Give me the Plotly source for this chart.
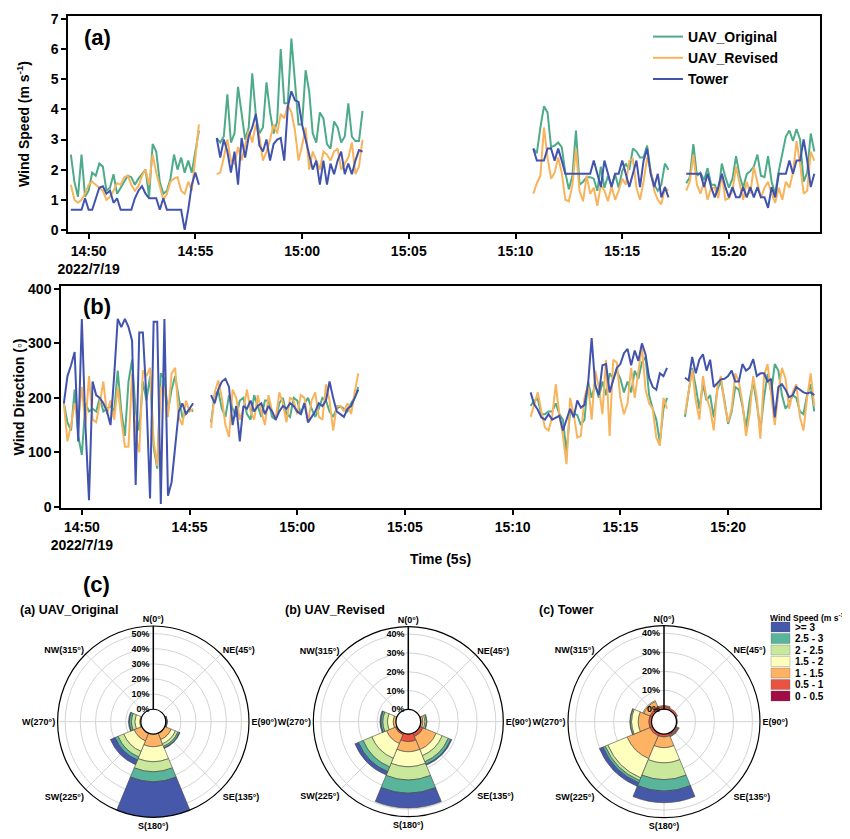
import plotly.graph_objects as go
import pandas as pd

# the page body has an 8 px margin; the figure is laid out in reference pixel
# coordinates and shifted by that margin
OFF = 8
W, H = 850 - OFF, 839 - OFF
FONT = "Liberation Sans, Arial, sans-serif"


def px(x):
    return (x - OFF) / W


def py(y):
    return 1 - (y - OFF) / H


# ---------------- time series data (10 s samples, 4 flight segments) -------------
SEG_STARTS = ["2022-07-19 14:49:10", "2022-07-19 14:56:00",
              "2022-07-19 15:10:50", "2022-07-19 15:18:00"]

ws_uav_original = [
    [2.5, 1.6, 1.1, 2.5, 1.1, 1.3, 1.9, 1.8, 2.2, 2.1, 1.3, 1.4, 1.85, 1.2, 1.4, 1.6, 1.8, 1.75, 1.5,
     1.7, 1.85, 2.0, 1.1, 2.85, 2.6, 1.6, 1.2, 1.3, 1.7, 2.5, 2.0, 2.4, 1.9, 2.3, 1.9, 2.6, 3.3],
    [3.05, 2.9, 3.1, 4.5, 2.9, 3.2, 4.75, 3.8, 3.0, 3.4, 5.2, 3.8, 3.2, 3.4, 4.9, 3.9, 3.2, 3.6, 6.0,
     4.2, 4.2, 6.35, 5.0, 3.5, 3.5, 5.3, 4.6, 3.2, 2.9, 3.9, 3.7, 2.85, 2.7, 3.6, 3.4, 2.9, 3.1, 4.2,
     3.1, 2.95, 2.95, 3.95],
    [2.7, 2.55, 3.4, 4.1, 3.9, 2.75, 2.8, 2.9, 2.75, 1.9, 1.35, 1.8, 3.3, 1.5, 1.6, 1.75, 1.75, 1.7,
     1.3, 2.1, 1.4, 1.8, 1.45, 1.85, 1.4, 1.95, 2.2, 2.0, 2.7, 2.6, 2.4, 2.4, 2.8, 1.9, 1.5, 1.3, 1.5,
     2.2, 2.0],
    [1.55, 1.75, 2.85, 1.8, 1.9, 1.65, 2.05, 1.5, 1.5, 1.2, 2.2, 1.75, 1.4, 1.7, 2.45, 1.8, 1.4, 1.85,
     1.95, 2.1, 2.5, 1.8, 1.75, 2.45, 1.6, 1.2, 1.95, 2.5, 3.1, 3.3, 2.95, 3.35, 3.0, 1.6, 1.9, 3.2, 2.6],
]
ws_uav_revised = [
    [1.5, 1.0, 0.9, 1.0, 1.2, 1.5, 1.6, 1.5, 1.4, 1.3, 1.0, 1.1, 1.3, 1.55, 1.5, 1.75, 1.8, 1.5, 1.3,
     1.45, 1.8, 2.0, 1.5, 2.5, 1.9, 1.4, 1.0, 1.2, 1.6, 1.7, 1.75, 1.3, 1.2, 1.6, 1.3, 2.4, 3.5],
    [1.85, 1.9, 2.4, 3.0, 2.3, 2.2, 2.75, 2.3, 2.8, 3.3, 2.9, 3.5, 3.1, 2.3, 2.6, 3.0, 3.5, 3.2, 3.85,
     3.7, 4.15, 3.9, 3.3, 2.3, 2.8, 3.4, 2.0, 2.6, 2.3, 2.0, 2.6, 2.5, 2.3, 2.6, 2.7, 2.0, 2.2, 2.4,
     2.9, 1.85, 2.1, 3.0],
    [1.2, 1.55, 1.8, 3.4, 2.4, 1.7, 1.9, 2.4, 1.9, 1.0, 0.95, 1.5, 2.7, 1.3, 0.95, 1.8, 1.2, 1.4, 0.8,
     1.5, 1.3, 0.95, 1.45, 1.0, 1.3, 1.7, 1.5, 2.3, 2.35, 1.4, 1.0, 1.6, 2.4, 2.0, 1.3, 1.0, 0.85, 1.4,
     1.3],
    [1.3, 1.6, 2.5, 1.5, 1.2, 1.6, 1.0, 1.4, 1.4, 1.05, 1.85, 1.0, 1.05, 1.3, 2.1, 1.5, 1.0, 1.6, 1.2,
     2.1, 1.6, 1.05, 1.4, 1.6, 1.2, 0.9, 1.4, 1.0, 1.6, 1.4, 1.9, 2.95, 2.2, 1.2, 1.3, 2.6, 2.3],
]
ws_tower = [
    [0.67, 0.67, 0.67, 0.67, 1.05, 0.67, 0.67, 1.05, 1.4, 1.45, 1.2, 1.3, 0.9, 1.05, 0.67, 0.67, 0.67,
     0.67, 1.05, 1.3, 1.45, 1.2, 1.05, 1.05, 1.05, 0.67, 1.05, 0.67, 0.67, 0.67, 0.67, 0.67, 0.0, 0.67,
     1.5, 1.9, 1.5],
    [3.05, 2.4, 3.0, 2.6, 1.9, 2.6, 1.5, 3.05, 2.4, 3.1, 3.4, 3.85, 2.8, 2.6, 3.0, 2.3, 2.85, 3.0,
     3.05, 2.3, 4.1, 4.6, 4.3, 4.25, 3.5, 3.0, 2.5, 2.0, 2.3, 1.5, 2.3, 1.5, 2.2, 1.85, 2.3, 2.6, 1.85,
     2.2, 1.85, 2.3, 2.65, 2.6],
    [2.7, 2.3, 2.3, 2.3, 2.7, 2.7, 2.3, 2.7, 2.3, 1.86, 1.86, 1.86, 1.86, 1.86, 1.86, 1.86, 1.86, 2.3,
     1.86, 1.42, 2.3, 1.86, 1.42, 1.86, 1.86, 2.3, 1.86, 1.42, 1.86, 2.3, 1.42, 2.3, 2.7, 1.86, 1.42,
     1.86, 1.08, 1.42, 1.08],
    [1.86, 1.86, 1.86, 1.86, 1.86, 1.42, 1.86, 1.42, 1.08, 1.42, 1.86, 1.42, 1.08, 1.42, 1.08, 1.08,
     1.42, 1.08, 1.42, 1.08, 1.42, 1.08, 1.08, 0.73, 1.42, 1.08, 1.86, 1.86, 1.86, 2.3, 1.86, 2.3, 2.3,
     3.0, 2.3, 1.42, 1.86],
]

wd_uav_original = [
    [190, 155, 140, 215, 130, 95, 190, 175, 180, 175, 200, 175, 180, 185, 175, 250, 175, 130, 230, 270,
     175, 140, 230, 195, 240, 110, 70, 245, 235, 175, 215, 240, 200, 165, 170, 180, 175],
    [155, 205, 213, 180, 165, 205, 180, 165, 195, 200, 170, 160, 205, 185, 165, 195, 195, 165, 160,
     190, 200, 170, 165, 200, 195, 170, 190, 200, 180, 165, 180, 200, 195, 175, 165, 180, 185, 180,
     175, 190, 200, 220],
    [185, 195, 198, 170, 170, 175, 175, 190, 170, 160, 100, 175, 172, 168, 150, 160, 230, 200, 225,
     200, 230, 205, 245, 235, 250, 235, 210, 230, 210, 250, 235, 265, 275, 205, 180, 160, 118, 180, 200],
    [165, 213, 255, 220, 180, 225, 195, 205, 164, 215, 231, 195, 152, 175, 220, 215, 185, 145, 195,
     230, 190, 140, 200, 244, 210, 262, 250, 205, 180, 190, 205, 200, 175, 170, 205, 225, 175],
]
wd_uav_revised = [
    [190, 120, 150, 190, 160, 220, 150, 240, 160, 155, 190, 230, 170, 195, 160, 220, 160, 110, 110,
     245, 130, 100, 250, 240, 255, 120, 75, 220, 215, 165, 245, 255, 165, 150, 195, 175, 180],
    [145, 210, 232, 200, 150, 128, 215, 200, 160, 180, 215, 175, 160, 205, 175, 150, 205, 175, 160,
     210, 190, 155, 200, 195, 170, 205, 200, 155, 195, 210, 165, 160, 225, 195, 140, 185, 185, 175,
     190, 170, 210, 245],
    [165, 190, 210, 175, 145, 140, 165, 225, 170, 130, 78, 200, 170, 127, 130, 200, 225, 160, 250, 220,
     170, 270, 130, 270, 265, 200, 170, 190, 255, 200, 250, 295, 215, 190, 180, 127, 112, 200, 180],
    [170, 215, 252, 195, 160, 240, 200, 180, 140, 220, 240, 190, 155, 180, 245, 230, 190, 130, 170,
     240, 200, 125, 240, 262, 200, 150, 210, 255, 235, 180, 210, 225, 165, 140, 200, 245, 185],
]
wd_tower = [
    [190, 240, 260, 284, 120, 345, 150, 12, 230, 205, 200, 190, 175, 150, 240, 345, 330, 345, 330,
     305, 40, 320, 320, 200, 15, 340, 340, 5, 345, 20, 45, 110, 175, 190, 170, 180, 190],
    [205, 190, 215, 230, 235, 220, 150, 185, 120, 185, 180, 195, 175, 185, 190, 170, 185, 175, 160,
     175, 185, 180, 190, 185, 175, 170, 190, 155, 165, 175, 190, 185, 195, 230, 200, 175, 170, 165,
     180, 185, 200, 215],
    [210, 188, 178, 164, 160, 170, 160, 164, 167, 140, 160, 180, 164, 195, 182, 187, 225, 310, 222,
     205, 260, 262, 210, 235, 255, 262, 282, 290, 260, 287, 268, 300, 280, 237, 220, 215, 245, 240, 255],
    [237, 232, 275, 245, 270, 280, 250, 270, 220, 228, 234, 235, 240, 250, 230, 230, 262, 250, 255,
     271, 240, 245, 245, 230, 235, 164, 220, 225, 215, 201, 205, 220, 215, 210, 208, 210, 205],
]

SERIES_NAMES = ["UAV_Original", "UAV_Revised", "Tower"]
SERIES_COLORS = ["#4eab89", "#f8b45c", "#4153ad"]

X_TICKS = ["2022-07-19 14:50", "2022-07-19 14:55", "2022-07-19 15:00", "2022-07-19 15:05",
           "2022-07-19 15:10", "2022-07-19 15:15", "2022-07-19 15:20"]
X_TICKTEXT = ["14:50<br>2022/7/19", "14:55", "15:00", "15:05", "15:10", "15:15", "15:20"]
X_RANGE = ["2022-07-19 14:49:02", "2022-07-19 15:24:16"]

# ---------------- wind rose data (% frequency per direction sector) ---------------
DIR_THETA = [0, 45, 90, 135, 180, 225, 270, 315]
DIR_LABELS = ["N(0°)", "NE(45°)", "E(90°)", "SE(135°)", "S(180°)", "SW(225°)", "W(270°)", "NW(315°)"]
SPEED_BINS = ["0 - 0.5", "0.5 - 1", "1 - 1.5", "1.5 - 2", "2 - 2.5", "2.5 - 3", ">= 3"]
BIN_COLORS = ["#a30b45", "#e9533f", "#fdb264", "#fefebd", "#c9e89c", "#58b49a", "#4558aa"]

rose_uav_original = {
    "0 - 0.5": [0, 0, 0, 0, 0, 0, 0, 0],
    "0.5 - 1": [0, 0, 0, 0, 0, 0, 0, 0],
    "1 - 1.5": [0, 0, 0.3, 4.6, 8.3, 5.5, 0.8, 0],
    "1.5 - 2": [0, 0, 0.3, 3.0, 9.9, 7.5, 3.2, 0],
    "2 - 2.5": [0, 0, 0.3, 1.8, 6.6, 4.0, 2.2, 0],
    "2.5 - 3": [0, 0, 0.2, 1.1, 6.6, 2.2, 1.4, 0],
    ">= 3": [0, 0, 0, 0.4, 24.0, 3.3, 0.5, 0],
}
rose_uav_revised = {
    "0 - 0.5": [0, 0, 0, 0, 0, 0, 0, 0],
    "0.5 - 1": [0, 0, 0.3, 2.0, 4.0, 1.0, 0, 0],
    "1 - 1.5": [0, 0, 1.0, 7.5, 5.4, 5.0, 1.5, 0],
    "1.5 - 2": [0, 0, 1.0, 3.5, 8.0, 8.5, 3.0, 0],
    "2 - 2.5": [0, 0, 0.8, 3.5, 7.0, 5.0, 2.5, 0],
    "2.5 - 3": [0, 0, 0.3, 1.5, 7.0, 2.7, 1.0, 0],
    ">= 3": [0, 0, 0, 0.5, 8.0, 2.0, 0.5, 0],
}
rose_tower = {
    "0 - 0.5": [0, 0, 0, 0, 0, 0, 0, 0],
    "0.5 - 1": [1.5, 1.2, 0.5, 1.0, 1.5, 1.5, 1.5, 1.5],
    "1 - 1.5": [0.5, 0, 0, 0.5, 5.6, 13.0, 5.5, 3.5],
    "1.5 - 2": [0, 0, 0, 0.3, 8.0, 11.0, 3.5, 0.5],
    "2 - 2.5": [0, 0, 0, 0.3, 8.8, 1.5, 0.6, 0],
    "2.5 - 3": [0, 0, 0, 0, 6.0, 1.3, 0.3, 0],
    ">= 3": [0, 0, 0, 0, 6.2, 2.0, 0, 0],
}
ROSE_TITLES = ["(a) UAV_Original", "(b) UAV_Revised", "(c) Tower"]


def build(segments):
    xs, ys = [], []
    for start, vals in zip(SEG_STARTS, segments):
        t = pd.date_range(start, periods=len(vals), freq="10s")
        xs += list(t.strftime("%Y-%m-%d %H:%M:%S"))
        ys += list(vals)
        xs.append(None)
        ys.append(None)
    return xs, ys


fig = go.Figure()

for name, color, segs in zip(SERIES_NAMES, SERIES_COLORS,
                             [ws_uav_original, ws_uav_revised, ws_tower]):
    x, y = build(segs)
    fig.add_trace(go.Scatter(x=x, y=y, mode="lines", name=name,
                             line=dict(color=color, width=2), xaxis="x", yaxis="y"))

for name, color, segs in zip(SERIES_NAMES, SERIES_COLORS,
                             [wd_uav_original, wd_uav_revised, wd_tower]):
    x, y = build(segs)
    fig.add_trace(go.Scatter(x=x, y=y, mode="lines", name=name, showlegend=False,
                             line=dict(color=color, width=2), xaxis="x2", yaxis="y2"))

# wind roses
for i, rose in enumerate([rose_uav_original, rose_uav_revised, rose_tower]):
    pname = "polar" if i == 0 else f"polar{i + 1}"
    for b, c in zip(SPEED_BINS, BIN_COLORS):
        r = [v if v > 0 else None for v in rose[b]]
        fig.add_trace(go.Barpolar(r=r, theta=DIR_THETA, width=45, name=b, showlegend=False,
                                  marker=dict(color=c, line=dict(color="rgba(70,70,70,0.85)", width=0.7)),
                                  subplot=pname))

tickfont = dict(family=FONT, size=14, color="black", weight="bold")
axis_common = dict(showline=True, linecolor="black", linewidth=1.5, mirror=True,
                   ticks="outside", ticklen=5, tickwidth=1.5, tickcolor="black",
                   showgrid=False, zeroline=False, tickfont=tickfont, automargin=False)

layout = dict(
    width=W, height=H, autosize=False,
    margin=dict(l=0, r=0, t=0, b=0, autoexpand=False),
    paper_bgcolor="white", plot_bgcolor="white",
    font=dict(family=FONT, color="black"),
    xaxis=dict(domain=[px(68), px(820)], anchor="y", type="date", range=X_RANGE,
               tickvals=X_TICKS, ticktext=X_TICKTEXT, **axis_common),
    yaxis=dict(domain=[py(232), py(16)], anchor="x", range=[-0.07, 7.1],
               tickvals=[0, 1, 2, 3, 4, 5, 6, 7],
               title=dict(text="<b>Wind Speed (m s<sup>-1</sup>)</b>", font=dict(size=14), standoff=18),
               **axis_common),
    xaxis2=dict(domain=[px(61), px(820)], anchor="y2", type="date", range=X_RANGE,
                tickvals=X_TICKS, ticktext=X_TICKTEXT,
                title=dict(text="<b>Time (5s)</b>", font=dict(size=14), standoff=2),
                **axis_common),
    yaxis2=dict(domain=[py(508), py(286)], anchor="x2", range=[-2.4, 405.5],
                tickvals=[0, 100, 200, 300, 400],
                title=dict(text="<b>Wind Direction (◦)</b>", font=dict(size=14), standoff=0),
                **axis_common),
    legend=dict(x=px(648), y=py(21), xanchor="left", yanchor="top",
                bgcolor="rgba(0,0,0,0)", font=dict(family=FONT, size=14, weight="bold"),
                tracegroupgap=0, itemwidth=30),
)

rose_centers = [(153.3, 721.7, 95.7), (408.3, 721.7, 95.0), (664.0, 721.7, 96.0)]
rose_ranges = [[0, 55], [0, 44], [0, 44]]
rose_ticks = [[0, 10, 20, 30, 40, 50], [0, 10, 20, 30, 40], [0, 10, 20, 30, 40]]
small_font = dict(family=FONT, size=9, color="black", weight="bold")
for i in range(3):
    cx, cy, R = rose_centers[i]
    pname = "polar" if i == 0 else f"polar{i + 1}"
    layout[pname] = dict(
        domain=dict(x=[px(cx - R), px(cx + R)], y=[py(cy + R), py(cy - R)]),
        hole=0.13, bgcolor="white", barmode="stack",
        radialaxis=dict(range=rose_ranges[i], tickvals=rose_ticks[i],
                        ticktext=[f"{v}%" for v in rose_ticks[i]],
                        angle=90, tickangle=90, side="counterclockwise", showline=True,
                        linecolor="black", linewidth=1.5, gridcolor="#d4d4d4", gridwidth=1,
                        ticks="", tickfont=small_font),
        angularaxis=dict(direction="clockwise", rotation=90, tickvals=DIR_THETA,
                         ticktext=DIR_LABELS, showline=True, linecolor="black", linewidth=1.2,
                         gridcolor="#d4d4d4", gridwidth=1, ticks="", tickfont=small_font),
    )

annotations = [
    dict(x=px(97), y=py(38), text="<b>(a)</b>", font=dict(size=22)),
    dict(x=px(97), y=py(307), text="<b>(b)</b>", font=dict(size=22)),
    dict(x=px(96), y=py(584), text="<b>(c)</b>", font=dict(size=22)),
    dict(x=px(18), y=py(610), text="<b>" + ROSE_TITLES[0] + "</b>", xanchor="left", font=dict(size=12.5)),
    dict(x=px(283), y=py(610), text="<b>" + ROSE_TITLES[1] + "</b>", xanchor="left", font=dict(size=12.5)),
    dict(x=px(537), y=py(610), text="<b>" + ROSE_TITLES[2] + "</b>", xanchor="left", font=dict(size=12.5)),
    dict(x=px(768), y=py(617), text="<b>Wind Speed (m s<sup>-1</sup>)</b>", xanchor="left",
         font=dict(size=8.5)),
]
shapes = []
legend_rows = list(zip(SPEED_BINS, BIN_COLORS))[::-1]
for j, (lab, col) in enumerate(legend_rows):
    yc = 627 + j * 11.5
    shapes.append(dict(type="rect", xref="paper", yref="paper", x0=px(771), x1=px(790),
                       y0=py(yc + 5), y1=py(yc - 5), fillcolor=col,
                       line=dict(color="rgba(90,90,90,0.6)", width=0.5)))
    annotations.append(dict(x=px(793), y=py(yc), text="<b>" + lab + "</b>", xanchor="left",
                            font=dict(size=10)))
for a in annotations:
    a.update(xref="paper", yref="paper", showarrow=False, yanchor=a.get("yanchor", "middle"))
    a["font"] = dict(family=FONT, color="black", **a["font"])
    a.setdefault("xanchor", "center")

layout["annotations"] = annotations
layout["shapes"] = shapes
fig.update_layout(**layout)
fig.write_html("out.html")
